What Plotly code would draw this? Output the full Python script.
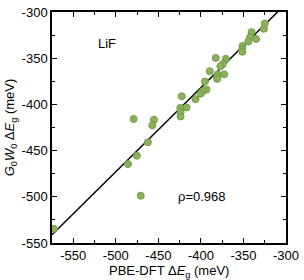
import plotly.graph_objects as go

# PBE-DFT gap change (meV)
dft_x = [-324.9, -326.0, -340.5, -342.4, -335.1, -344.3, -351.1, -351.7, -351.3,
         -382.6, -370.7, -374.5, -377.2, -389.6, -372.6, -380.3, -380.9, -380.9,
         -395.3, -393.4, -397.6, -400.3, -422.5, -406.3, -416.9, -424.2, -423.9,
         -423.9, -479.1, -455.2, -457.1, -462.3, -475.3, -485.7, -470.7, -572.7]
# G0W0 gap change (meV)
gw_y = [-312.4, -318.1, -321.8, -327.6, -329.2, -331.8, -336.8, -340.4, -343.0,
        -349.7, -350.7, -356.5, -358.8, -364.1, -367.5, -367.5, -370.2, -372.5,
        -375.3, -384.0, -385.5, -388.4, -391.2, -394.3, -403.3, -403.8, -408.4,
        -413.1, -415.9, -416.6, -422.7, -441.0, -455.5, -464.6, -498.8, -534.6]

fit_slope = 0.9094
fit_intercept = -18.1
fit_x = [-575, -300]

x_tickvals = [-550, -500, -450, -400, -350, -300]
x_ticktext = ["-550", "-500", "-450", "-400", "-350", "-300"]
y_tickvals = [-550, -500, -450, -400, -350, -300]
y_ticktext = ["-550", "-500", "-450", "-400", "-350", "-300"]

fit_y = [fit_slope * v + fit_intercept for v in fit_x]

fig = go.Figure()
fig.add_trace(go.Scatter(x=fit_x, y=fit_y, mode="lines",
                         line=dict(color="black", width=1.5), showlegend=False))
fig.add_trace(go.Scatter(x=dft_x, y=gw_y, mode="markers",
                         marker=dict(size=7, color="#8db05c",
                                     line=dict(color="#74a04a", width=1)),
                         showlegend=False, cliponaxis=False))

axis_common = dict(showline=True, linecolor="black", linewidth=1.5, mirror="allticks",
                   ticks="inside", ticklen=5, tickwidth=1.2, tickcolor="black",
                   showgrid=False, zeroline=False, ticklabeloverflow="allow",
                   tickfont=dict(size=13, color="black"),
                   minor=dict(ticks="inside", ticklen=3, tickwidth=1, tickcolor="black", dtick=25))

fig.update_xaxes(range=[-575, -300], tickvals=x_tickvals, ticktext=x_ticktext, **axis_common)
fig.update_yaxes(range=[-550, -300], tickvals=y_tickvals, ticktext=y_ticktext,
                 title=dict(text="<i>G</i><sub>0</sub><i>W</i><sub>0</sub> Δ<i>E</i><sub>g</sub> (meV)",
                            font=dict(size=13, color="black"), standoff=4),
                 **axis_common)

fig.add_annotation(x=0.5, y=-0.078, xref="paper", yref="paper", yanchor="top",
                   text="PBE-DFT Δ<i>E</i><sub>g</sub> (meV)",
                   showarrow=False, font=dict(size=13, color="black"))
fig.add_annotation(x=0.188, y=0.903, xref="paper", yref="paper", text="LiF",
                   showarrow=False, font=dict(size=13, color="black"))
fig.add_annotation(x=0.752, y=0.16, xref="paper", yref="paper", text="ρ=0.968",
                   showarrow=False, font=dict(size=13, color="black"))

fig.update_layout(width=304, height=280, margin=dict(l=52, r=14, t=5, b=37),
                  paper_bgcolor="white", plot_bgcolor="white", hovermode=False,
                  font=dict(family="Liberation Sans, Arial, sans-serif", size=13, color="black"))

fig.write_html("out.html", config={"displayModeBar": False},
               post_script="document.body.style.margin='0';document.body.style.overflow='hidden';")
